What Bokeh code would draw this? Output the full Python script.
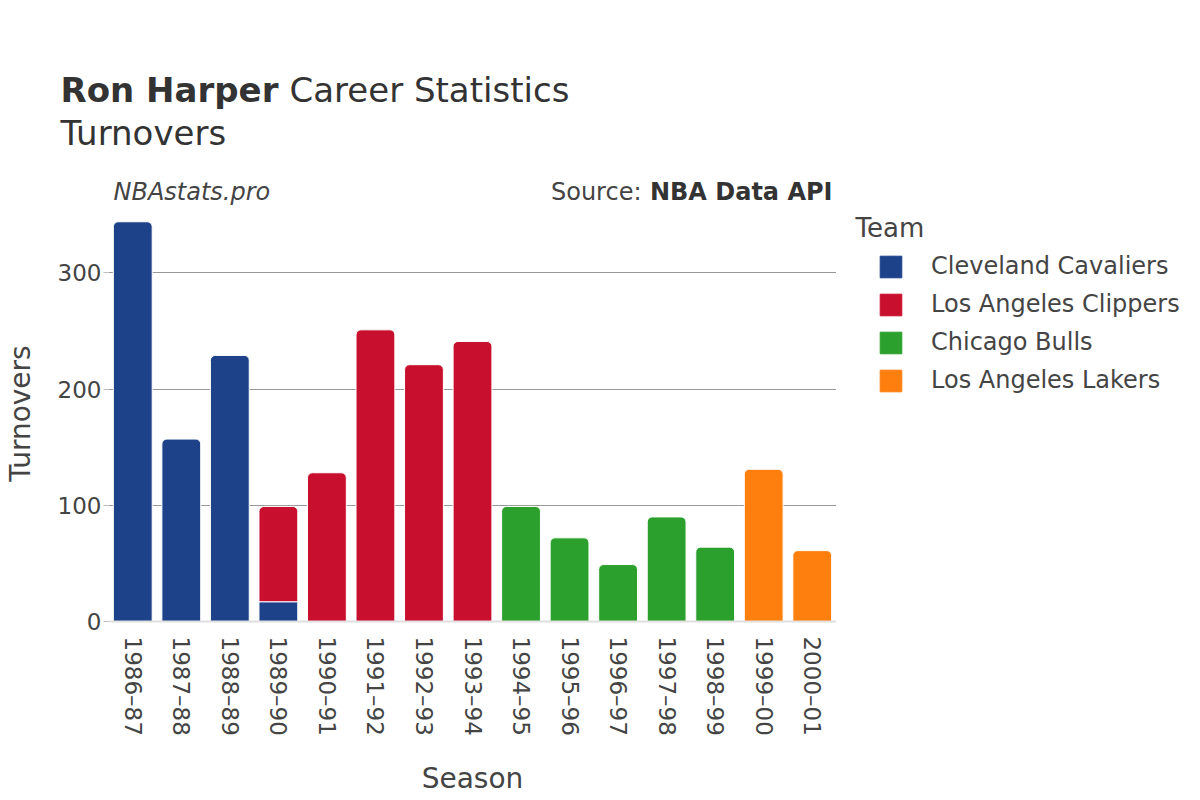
from bokeh.plotting import figure
from bokeh.layouts import column, row
from bokeh.models import (Label, Legend, LegendItem, FactorRange, Range1d,
                          FixedTicker, ColumnDataSource)
from bokeh.embed import file_html
from bokeh.resources import INLINE
import math

# ---------------- data ----------------
seasons = ["1986–87", "1987–88", "1988–89", "1989–90", "1990–91", "1991–92",
           "1992–93", "1993–94", "1994–95", "1995–96", "1996–97", "1997–98",
           "1998–99", "1999–00", "2000–01"]

teams = ["Cleveland Cavaliers", "Los Angeles Clippers", "Chicago Bulls",
         "Los Angeles Lakers"]
team_colors = ["#1D428A", "#C8102E", "#2CA02C", "#FF7F0E"]

cavs_seasons = ["1986–87", "1987–88", "1988–89", "1989–90"]
cavs_tov = [344, 157, 229, 17]

clippers_seasons = ["1989–90", "1990–91", "1991–92", "1992–93", "1993–94"]
clippers_tov = [82, 128, 251, 221, 241]

bulls_seasons = ["1994–95", "1995–96", "1996–97", "1997–98", "1998–99"]
bulls_tov = [99, 72, 49, 90, 64]

lakers_seasons = ["1999–00", "2000–01"]
lakers_tov = [131, 61]

y_ticks = [0, 100, 200, 300]

team_data = [(cavs_seasons, cavs_tov), (clippers_seasons, clippers_tov),
             (bulls_seasons, bulls_tov), (lakers_seasons, lakers_tov)]

# ---------------- layout constants ----------------
W, H = 1200, 800
HEAD_H = 205              # header strip height
MAIN_W = 836              # main plot width (frame right edge)
FRAME_L, FRAME_B = 108, 621
FONT = "DejaVu Sans"
TXT = "#444444"
DARK = "#333333"


def blank_fig(w, h, xr, yr, bottom=0):
    f = figure(width=w, height=h, output_backend="svg", toolbar_location=None,
               x_range=xr, y_range=yr,
               min_border_left=0, min_border_right=0, min_border_top=0,
               min_border_bottom=bottom)
    f.axis.visible = False
    f.grid.visible = False
    f.outline_line_color = None
    f.background_fill_color = "white"
    f.border_fill_color = "white"
    return f


def add_text(fig, text, x, y, size, style="normal", align="left", color=TXT):
    fig.add_layout(Label(x=x, y=y, text=text, text_font=FONT,
                         text_font_size=size, text_font_style=style,
                         text_align=align, text_baseline="middle",
                         text_color=color))


# ---------------- header ----------------
head = blank_fig(W, HEAD_H, Range1d(0, W), Range1d(HEAD_H, 0))
add_text(head, "Ron Harper", 60, 89, "34px", "bold", color=DARK)
add_text(head, "Career Statistics", 289, 89, "34px", color=DARK)
add_text(head, "Turnovers", 60, 132, "34px", color=DARK)
add_text(head, "NBAstats.pro", 113, 191, "24px", "italic")
add_text(head, "NBA Data API", 832, 191, "24px", "bold", align="right", color=DARK)
add_text(head, "Source:", 641, 191, "24px", align="right")

# ---------------- main chart ----------------
main_h = H - HEAD_H
p = figure(width=MAIN_W, height=main_h, output_backend="svg",
           toolbar_location=None,
           x_range=FactorRange(*seasons, range_padding=0),
           y_range=Range1d(0, 358),
           min_border_left=FRAME_L, min_border_right=0,
           min_border_top=0, min_border_bottom=H - FRAME_B)
p.outline_line_color = None
p.background_fill_color = "white"
p.border_fill_color = "white"

base = {s: 0 for s in seasons}
segments = []
for (ss, vals) in team_data:
    segs = []
    for s, v in zip(ss, vals):
        segs.append((s, base[s], base[s] + v))
        base[s] += v
    segments.append(segs)

for ti, segs in enumerate(segments):
    top_segs = [sg for sg in segs if sg[2] == base[sg[0]]]
    low_segs = [sg for sg in segs if sg[2] != base[sg[0]]]
    for group, radius in ((top_segs, (5, 5, 0, 0)), (low_segs, 0)):
        if not group:
            continue
        src = ColumnDataSource(dict(x=[g[0] for g in group],
                                    bottom=[g[1] for g in group],
                                    top=[g[2] for g in group]))
        p.vbar(x="x", bottom="bottom", top="top", width=0.8, source=src,
               fill_color=team_colors[ti], line_color="white",
               line_width=1, border_radius=radius)

p.yaxis.ticker = FixedTicker(ticks=y_ticks)
p.ygrid.ticker = FixedTicker(ticks=[t for t in y_ticks if t > 0])
p.ygrid.grid_line_color = "#999999"
p.ygrid.grid_line_width = 1
p.xgrid.grid_line_color = None

for ax in (p.xaxis[0], p.yaxis[0]):
    ax.minor_tick_line_color = None
    ax.major_tick_in = 0
    ax.minor_tick_out = 0
    ax.major_label_text_font = FONT
    ax.major_label_text_font_size = "23px"
    ax.major_label_text_color = TXT
    ax.axis_label_text_font = FONT
    ax.axis_label_text_font_size = "28px"
    ax.axis_label_text_font_style = "normal"
    ax.axis_label_text_color = TXT

p.yaxis.axis_line_color = None
p.yaxis.major_tick_line_color = "#bbbbbb"
p.yaxis.major_tick_out = 5
p.yaxis.axis_label = "Turnovers"
p.yaxis.major_label_standoff = 2
p.yaxis.axis_label_standoff = 18

p.xaxis.major_tick_line_color = None
p.xaxis.major_tick_out = 0
p.xaxis.axis_line_color = "#e0e0e0"
p.xaxis.axis_line_width = 2
p.xaxis.axis_label = "Season"
p.xaxis.major_label_orientation = -math.pi / 2
p.xaxis.major_label_standoff = 15
p.xaxis.axis_label_standoff = 23

# ---------------- legend strip ----------------
leg_w = W - MAIN_W
lf = blank_fig(leg_w, main_h, Range1d(MAIN_W, W), Range1d(FRAME_B, HEAD_H),
               bottom=H - FRAME_B)
add_text(lf, "Team", 855, 227, "26px")
items = []
for ti, name in enumerate(teams):
    # legend-only swatch renderer (no visible data point)
    r = lf.vbar(x=[float("nan")], top=[float("nan")], width=1,
                fill_color=team_colors[ti], line_color=team_colors[ti],
                border_radius=4)
    items.append(LegendItem(label=name, renderers=[r]))
legend = Legend(items=items, location=(877 - MAIN_W, FRAME_B - 394),
                padding=0, margin=0, spacing=10,
                glyph_width=27, glyph_height=27, label_height=23,
                label_standoff=27,
                label_text_font=FONT, label_text_font_size="24px",
                label_text_color=TXT,
                border_line_color=None, background_fill_alpha=0)
lf.add_layout(legend, "center")

layout = column(head, row(p, lf, spacing=0), spacing=0)
open("out.html", "w").write(file_html(layout, INLINE))
